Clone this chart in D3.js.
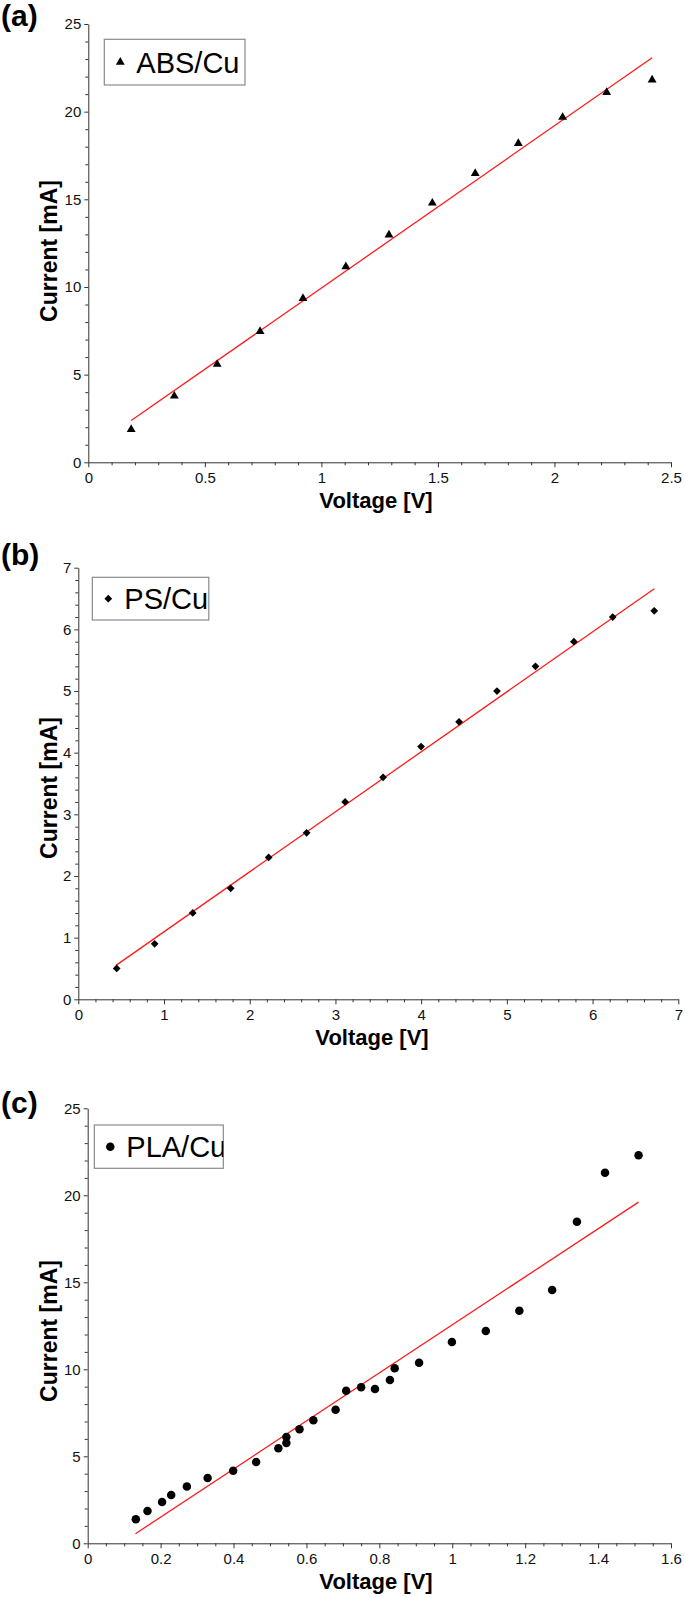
<!DOCTYPE html>
<html>
<head>
<meta charset="utf-8">
<script src="https://cdn.jsdelivr.net/npm/d3@7"></script>
<style>
  html, body { margin: 0; padding: 0; background: #fff; }
  svg { display: block; }
  text { font-family: "Liberation Sans", Arial, sans-serif; }
</style>
</head>
<body>
<svg id="chart" width="685" height="1597"></svg>
<script>
// ---------- DATA ----------
// (a) ABS/Cu
const absVoltage = [0.184, 0.369, 0.553, 0.737, 0.921, 1.105, 1.290, 1.476, 1.660, 1.845, 2.035, 2.224, 2.419];
const absCurrent = [1.88, 3.78, 5.59, 7.47, 9.35, 11.16, 12.97, 14.79, 16.48, 18.19, 19.68, 21.10, 21.81];
const absFitVoltage = [0.184, 2.419];
const absFitCurrent = [2.38, 23.08];
const absXTicks = [0, 0.5, 1, 1.5, 2, 2.5];
const absYTicks = [0, 5, 10, 15, 20, 25];

// (b) PS/Cu
const psVoltage = [0.448, 0.891, 1.335, 1.778, 2.221, 2.664, 3.113, 3.556, 3.999, 4.442, 4.885, 5.334, 5.782, 6.235, 6.719];
const psCurrent = [0.50, 0.90, 1.40, 1.80, 2.30, 2.70, 3.20, 3.60, 4.10, 4.50, 5.00, 5.40, 5.80, 6.20, 6.30];
const psFitVoltage = [0.44, 6.72];
const psFitCurrent = [0.55, 6.66];
const psXTicks = [0, 1, 2, 3, 4, 5, 6, 7];
const psYTicks = [0, 1, 2, 3, 4, 5, 6, 7];

// (c) PLA/Cu
const plaVoltage = [0.132, 0.164, 0.204, 0.229, 0.272, 0.329, 0.399, 0.462, 0.523, 0.545, 0.545, 0.581, 0.619, 0.680, 0.709, 0.750, 0.788, 0.829, 0.842, 0.909, 0.999, 1.092, 1.184, 1.274, 1.342, 1.419, 1.511];
const plaCurrent = [1.38, 1.86, 2.37, 2.77, 3.27, 3.75, 4.17, 4.67, 5.46, 5.76, 6.11, 6.55, 7.07, 7.68, 8.77, 8.97, 8.87, 9.39, 10.06, 10.38, 11.57, 12.20, 13.37, 14.56, 18.48, 21.30, 22.30];
const plaFitVoltage = [0.131, 1.511];
const plaFitCurrent = [0.55, 19.61];
const plaXTicks = [0, 0.2, 0.4, 0.6, 0.8, 1, 1.2, 1.4, 1.6];
const plaYTicks = [0, 5, 10, 15, 20, 25];

const panelLabels = ["(a)", "(b)", "(c)"];
const seriesNames = ["ABS/Cu", "PS/Cu", "PLA/Cu"];
const xTitle = "Voltage [V]";
const yTitle = "Current [mA]";

// ---------- LAYOUT ----------
const svg = d3.select("#chart");
const axisColor = "#333";

const panels = [
  {
    label: panelLabels[0], name: seriesNames[0],
    vx: absVoltage, vy: absCurrent, fx: absFitVoltage, fy: absFitCurrent,
    xTicks: absXTicks, yTicks: absYTicks, xMinorStep: 0.1, yMinorStep: 1,
    xDomain: [0, 2.5], yDomain: [0, 25],
    xRange: [88.3, 671], yRange: [462.3, 24],
    symbol: "triangle",
    legend: { x: 104.3, y: 39.3, w: 140.7, h: 45.7 },
    labelPos: { x: 1, y: 25.5 },
    yTitleCenter: 251, xTitleCenter: 376
  },
  {
    label: panelLabels[1], name: seriesNames[1],
    vx: psVoltage, vy: psCurrent, fx: psFitVoltage, fy: psFitCurrent,
    xTicks: psXTicks, yTicks: psYTicks, xMinorStep: 0.2, yMinorStep: 0.2,
    xDomain: [0, 7], yDomain: [0, 7],
    xRange: [78.3, 678.3], yRange: [999.3, 567.7],
    symbol: "diamond",
    legend: { x: 92.3, y: 577.3, w: 116.5, h: 42.7 },
    labelPos: { x: 1, y: 565 },
    yTitleCenter: 788, xTitleCenter: 372
  },
  {
    label: panelLabels[2], name: seriesNames[2],
    vx: plaVoltage, vy: plaCurrent, fx: plaFitVoltage, fy: plaFitCurrent,
    xTicks: plaXTicks, yTicks: plaYTicks, xMinorStep: 0.05, yMinorStep: 1,
    xDomain: [0, 1.6], yDomain: [0, 25],
    xRange: [87.7, 671], yRange: [1543.3, 1108.3],
    symbol: "circle",
    legend: { x: 94.3, y: 1125, w: 129, h: 43.3 },
    labelPos: { x: 1, y: 1113 },
    yTitleCenter: 1331, xTitleCenter: 376
  }
];

function symbolPath(kind) {
  if (kind === "triangle") return d3.symbol().type(d3.symbolTriangle).size(34)();
  if (kind === "diamond") return d3.symbol().type(d3.symbolSquare).size(30)();
  return d3.symbol().type(d3.symbolCircle).size(57)();
}
function symbolRot(kind) { return kind === "diamond" ? " rotate(45)" : ""; }

function minorValues(domain, step, majors) {
  const out = [];
  const n = Math.round((domain[1] - domain[0]) / step);
  for (let i = 0; i <= n; i++) {
    const v = +(domain[0] + i * step).toFixed(6);
    if (!majors.some(m => Math.abs(m - v) < 1e-9)) out.push(v);
  }
  return out;
}

panels.forEach((p, idx) => {
  const g = svg.append("g");
  const x = d3.scaleLinear().domain(p.xDomain).range(p.xRange);
  const y = d3.scaleLinear().domain(p.yDomain).range(p.yRange);
  const fmt = d => String(+d.toFixed(2));

  // minor ticks
  g.append("g")
    .attr("transform", `translate(0,${p.yRange[0]})`)
    .call(d3.axisBottom(x).tickValues(minorValues(p.xDomain, p.xMinorStep, p.xTicks)).tickSize(3).tickSizeOuter(0).tickFormat(""))
    .call(s => s.select(".domain").remove());
  g.append("g")
    .attr("transform", `translate(${p.xRange[0]},0)`)
    .call(d3.axisLeft(y).tickValues(minorValues(p.yDomain, p.yMinorStep, p.yTicks)).tickSize(3).tickSizeOuter(0).tickFormat(""))
    .call(s => s.select(".domain").remove());

  // major axes
  const xa = g.append("g")
    .attr("transform", `translate(0,${p.yRange[0]})`)
    .call(d3.axisBottom(x).tickValues(p.xTicks).tickSize(5).tickSizeOuter(0).tickPadding(5).tickFormat(fmt));
  const ya = g.append("g")
    .attr("transform", `translate(${p.xRange[0]},0)`)
    .call(d3.axisLeft(y).tickValues(p.yTicks).tickSize(4).tickSizeOuter(0).tickPadding(3).tickFormat(fmt));

  g.selectAll(".tick line").attr("stroke", axisColor);
  g.selectAll(".domain").attr("stroke", axisColor);
  [xa, ya].forEach(a => a.selectAll("text")
    .attr("font-family", "'Liberation Sans', Arial, sans-serif")
    .attr("font-size", 15).attr("fill", "#111"));

  // fit line
  const fitPts = p.fx.map((v, i) => [v, p.fy[i]]);
  g.append("path")
    .attr("d", d3.line().x(d => x(d[0])).y(d => y(d[1]))(fitPts))
    .attr("fill", "none").attr("stroke", "#ff1a1a").attr("stroke-width", 1.3);

  // points
  const pts = p.vx.map((v, i) => [v, p.vy[i]]);
  g.append("g").selectAll("path").data(pts).join("path")
    .attr("d", symbolPath(p.symbol))
    .attr("transform", d => `translate(${x(d[0])},${y(d[1])})${symbolRot(p.symbol)}`)
    .attr("fill", "#000");

  // legend
  const L = p.legend;
  const clipId = "legclip" + idx;
  svg.append("clipPath").attr("id", clipId).append("rect")
    .attr("x", L.x).attr("y", L.y).attr("width", L.w).attr("height", L.h);
  const lg = g.append("g");
  lg.append("rect").attr("x", L.x).attr("y", L.y).attr("width", L.w).attr("height", L.h)
    .attr("fill", "#fff").attr("stroke", "#8a8a8a").attr("stroke-width", 1.2);
  lg.append("path").attr("d", symbolPath(p.symbol))
    .attr("transform", `translate(${L.x + 16},${L.y + L.h / 2})${symbolRot(p.symbol)}`)
    .attr("fill", "#000");
  lg.append("text").attr("clip-path", `url(#${clipId})`)
    .attr("x", L.x + 32).attr("y", L.y + L.h / 2 + 10.5)
    .attr("font-size", 29).attr("fill", "#000").text(p.name);

  // panel label
  g.append("text").attr("x", p.labelPos.x).attr("y", p.labelPos.y)
    .attr("font-size", 30).attr("font-weight", "bold").attr("fill", "#000").text(p.label);

  // axis titles
  g.append("text").attr("x", p.xTitleCenter).attr("y", p.yRange[0] + 46)
    .attr("text-anchor", "middle").attr("font-size", 22).attr("font-weight", "bold")
    .attr("fill", "#000").text(xTitle);
  g.append("text")
    .attr("transform", `translate(57,${p.yTitleCenter}) rotate(-90)`)
    .attr("text-anchor", "middle").attr("font-size", 23).attr("font-weight", "bold")
    .attr("fill", "#000").text(yTitle);
});
</script>
</body>
</html>
